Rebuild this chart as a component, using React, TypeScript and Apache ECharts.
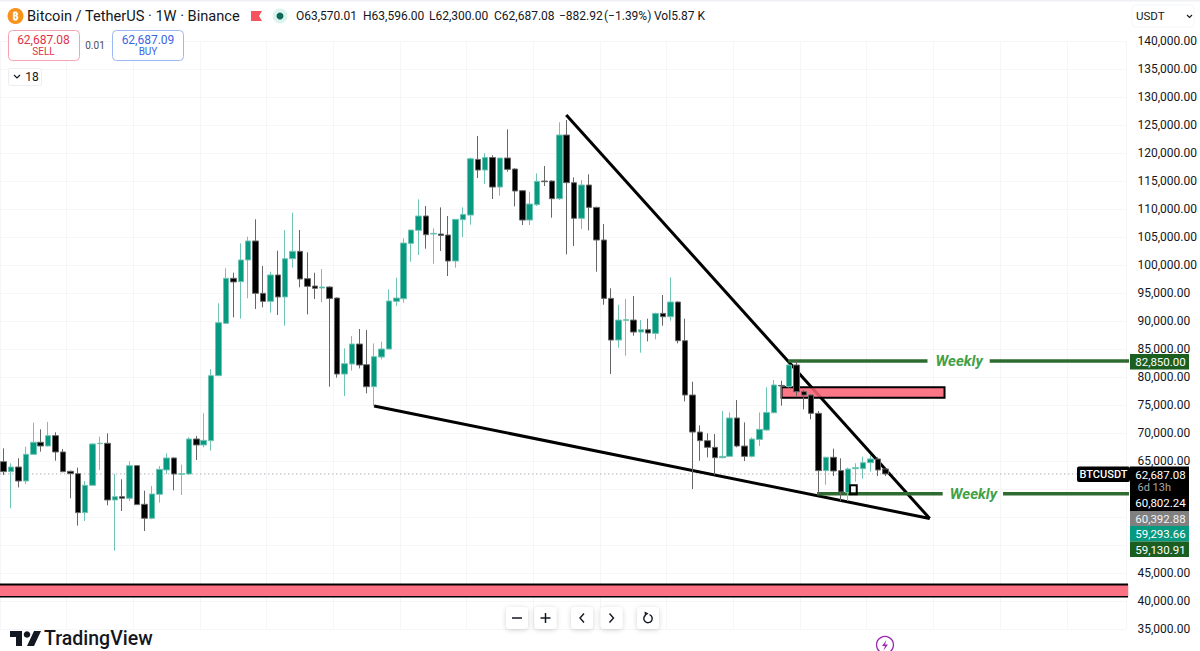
import React, { useEffect, useRef } from "react";
import * as echarts from "echarts";

// [open, close, low, high] in thousands of USDT, one row per weekly bar
const weeklyBars: number[][] = [
  [64.88,63.10,62.50,67.26],[63.10,63.93,56.55,64.59],[63.93,61.43,60.30,65.48],[61.43,66.19,60.90,67.56],
  [66.19,68.34,66.07,71.85],[68.34,67.68,66.67,70.66],[67.68,69.53,67.56,71.97],[69.53,66.61,65.06,70.12],
  [66.61,63.10,62.98,67.15],[63.16,62.74,58.34,63.28],[62.74,55.78,53.46,63.81],[55.78,60.66,54.29,61.43],
  [60.66,68.04,60.60,68.16],[68.10,68.16,63.40,69.35],[68.16,58.04,57.09,69.94],[58.04,58.63,48.99,62.68],
  [58.63,58.34,56.07,61.73],[58.34,64.17,57.86,64.94],[64.17,57.21,57.15,64.29],[57.27,54.77,52.50,59.70],
  [54.77,59.11,54.59,60.54],[59.05,63.52,57.56,64.11],[63.40,65.54,62.68,66.37],[65.54,62.68,59.76,65.66],
  [62.65,62.72,58.93,64.35],[62.68,68.93,62.56,69.23],[68.93,67.86,65.18,69.47],[67.86,68.69,67.44,73.52],
  [68.63,80.24,66.85,81.37],[80.24,89.70,80.18,93.16],[89.58,97.62,89.47,99.41],[97.62,96.97,90.66,98.63],
  [97.03,100.90,90.42,103.87],[100.90,104.29,94.05,105.06],[104.29,94.94,92.15,108.16],[94.94,93.51,92.44,99.82],
  [93.51,98.22,91.49,98.81],[98.22,94.29,91.07,102.56],[94.29,101.13,89.17,106.25],[101.13,102.44,99.53,109.35],
  [102.44,97.50,96.02,106.25],[97.56,96.19,91.19,102.26],[96.25,95.83,93.92,98.63],[95.90,96.07,93.33,99.28],
  [96.07,94.04,78.27,96.20],[94.10,80.53,79.88,94.22],[80.53,82.38,76.60,85.11],[82.32,85.89,81.13,87.32],
  [85.89,82.14,81.54,88.57],[82.20,78.27,77.08,88.39],[78.27,83.63,74.82,85.99],[83.57,85.00,83.15,86.31],
  [85.00,93.57,84.94,95.65],[93.51,94.10,92.67,97.73],[93.98,103.92,93.27,104.76],[103.86,106.25,100.59,106.25],
  [106.19,108.75,101.78,111.72],[108.75,105.41,102.91,110.53],[105.53,105.65,100.23,106.54],[105.53,105.29,102.50,110.29],
  [105.35,100.71,98.03,108.75],[100.71,108.15,99.52,108.15],[108.09,109.04,105.00,110.29],[108.92,118.98,107.20,119.20],
  [118.86,116.96,115.53,123.03],[116.96,119.20,114.46,119.94],[119.20,113.92,111.78,119.58],[113.92,119.10,112.38,119.10],
  [119.10,117.08,116.66,124.22],[117.14,113.21,110.47,117.26],[113.27,108.03,107.14,113.39],[108.03,110.89,107.14,113.09],
  [110.77,114.94,110.53,116.36],[114.99,114.88,114.10,117.67],[114.99,111.84,108.45,115.11],[111.84,123.21,111.60,125.47],
  [123.21,114.70,101.90,125.89],[114.70,108.33,103.39,115.65],[108.33,114.28,106.42,115.17],[114.28,110.29,106.19,116.19],
  [110.29,104.46,98.80,110.41],[104.46,94.04,92.91,107.32],[94.04,86.60,80.53,95.83],[86.60,90.17,85.23,92.91],
  [90.12,90.23,83.81,93.92],[90.17,88.03,87.38,94.46],[88.03,88.45,84.34,90.17],[88.45,87.85,86.36,90.41],
  [87.79,91.36,86.72,91.48],[91.36,90.77,89.16,94.64],[90.77,93.39,90.05,97.79],[93.39,86.48,86.01,93.51],
  [86.48,76.78,75.65,90.41],[76.78,70.17,60.00,79.16],[70.17,68.63,65.05,71.36],[68.63,67.44,65.65,69.94],
  [67.44,65.59,62.50,69.82],[65.59,65.83,65.47,73.92],[65.83,72.68,65.71,73.68],[72.68,67.67,67.44,75.89],
  [67.67,65.83,64.99,71.90],[65.83,68.92,65.65,69.22],[68.86,70.65,67.67,73.68],[70.53,73.68,70.41,78.15],
  [73.62,78.57,73.51,79.46],[78.50,78.40,74.88,79.34],[78.27,82.14,78.15,82.26],[82.14,77.38,76.48,82.85],
  [77.38,76.78,74.22,77.68],[76.78,73.51,72.44,76.90],[73.51,63.28,59.11,73.93],[63.28,65.66,60.78,65.78],
  [65.66,63.22,62.32,67.21],[63.28,59.47,57.86,65.48],[59.35,63.57,57.86,63.81],[63.63,63.81,61.31,64.59],
  [63.63,64.70,61.85,65.78],[64.70,65.36,63.10,66.07],[65.36,63.40,62.32,65.66],[63.57,62.687,62.30,63.596],
];
const slotCount = 152;
const categories = Array.from({ length: slotCount }, (_, i) => String(i));

const yTickMin = 35000;
const yTickMax = 140000;
const yTickStep = 5000;
const coveredTicks = [50000, 55000, 60000];
const lastPrice = 62687.08;
const weeklyHigh = 82850;
const weeklyLow = 59130.91;
const demandTop = 42950;
const demandBottom = 40770;

// [bar index, price]
const upperTrend = [[75.94, 126790], [125, 54730]];
const lowerTrend = [[50, 74820], [125, 54730]];
const lastPriceLine = [[-1, lastPrice], [144.9, lastPrice]];
const weeklyHighSegments = [[[105.9, weeklyHigh], [124.7, weeklyHigh]], [[133.1, weeklyHigh], [151.9, weeklyHigh]]];
const weeklyLowSegments = [[[109.8, weeklyLow], [126.75, weeklyLow]], [[134.9, weeklyLow], [151.9, weeklyLow]]];
const weeklyLabels = [[128.97, weeklyHigh], [130.9, weeklyLow]];
const demandTopLine = [[-1, demandTop], [151.8, demandTop]];
const demandBottomLine = [[-1, demandBottom], [151.8, demandBottom]];
// [x from, x to, price low, price high]
const supplyZone = [[105, 127, 76300, 78160]];
const demandZone = [[-1, 151.8, demandBottom, demandTop]];
const miniBox = [[114.25, 115.15, 59050, 60660]];

const titleText = "Bitcoin / TetherUS · 1W · Binance";
const ohlcParts = [
  { x: 296, text: "O63,570.01" },
  { x: 363, text: "H63,596.00" },
  { x: 429, text: "L62,300.00" },
  { x: 494, text: "C62,687.08" },
  { x: 559, text: "−882.92" },
  { x: 604, text: "(−1.39%)" },
  { x: 654, text: "Vol5.87 K" },
];
const sellPrice = "62,687.08";
const buyPrice = "62,687.09";
const spreadText = "0.01";
const priceTags = [
  { y: 354, h: 15.5, fill: "#1b5e20", text: "82,850.00", color: "#ffffff" },
  { y: 511, h: 15, fill: "#808080", text: "60,392.88", color: "#f2f2f2" },
  { y: 526, h: 15.5, fill: "#089981", text: "59,293.66", color: "#ffffff" },
  { y: 541.5, h: 15.5, fill: "#1b5e20", text: "59,130.91", color: "#ffffff" },
];

const FONT = "Roboto, 'Noto Sans', sans-serif";

function txt(text: string, x: number, y: number, size: number, fill: string, align = "left", weight = 400) {
  return {
    type: "text", z: 100, silent: true,
    style: { text, x, y, fill, fontSize: size, fontFamily: FONT, fontWeight: weight, textAlign: align, textVerticalAlign: "middle" },
  };
}
function box(x: number, y: number, w: number, h: number, fill: string, stroke?: string, r = 0, shadow = false) {
  return {
    type: "rect", z: 99, silent: true,
    shape: { x, y, width: w, height: h, r },
    style: {
      fill, stroke: stroke || undefined, lineWidth: stroke ? 1 : 0,
      ...(shadow ? { shadowBlur: 5, shadowColor: "rgba(0,0,0,0.18)", shadowOffsetY: 1 } : {}),
    },
  };
}
function stroke(points: number[][], color = "#131722", w = 1.4) {
  return { type: "polyline", z: 100, silent: true, shape: { points }, style: { fill: "none", stroke: color, lineWidth: w } };
}

function buildGraphics() {
  const g: any[] = [];
  g.push(box(0, 0, 1200, 1.5, "#eef0f3"));
  // header
  g.push({ type: "circle", z: 99, silent: true, shape: { cx: 15.5, cy: 16, r: 8 }, style: { fill: "#f7931a" } });
  g.push(txt("₿", 15.5, 16.5, 11, "#ffffff", "center", 700));
  g.push(txt(titleText, 27, 16, 14.6, "#131722"));
  g.push({ type: "polygon", z: 100, silent: true, shape: { points: [[251, 11], [262, 11], [259, 16], [262, 21], [251, 21]] }, style: { fill: "#f7525f" } });
  g.push({ type: "circle", z: 99, silent: true, shape: { cx: 280, cy: 16, r: 7.5 }, style: { fill: "#dcf3ee" } });
  g.push({ type: "circle", z: 100, silent: true, shape: { cx: 280, cy: 16, r: 3.5 }, style: { fill: "#0b6b57" } });
  ohlcParts.forEach((p) => g.push(txt(p.text, p.x, 16, 12, "#131722")));
  // sell / buy
  g.push(box(8.5, 30.5, 71, 30, "#ffffff", "#f5a3ae", 4));
  g.push(txt(sellPrice, 43.5, 39.5, 12, "#e03347", "center"));
  g.push(txt("SELL", 43.5, 51.5, 10, "#e03347", "center"));
  g.push(txt(spreadText, 95, 45.5, 10, "#4a4e59", "center"));
  g.push(box(112.5, 30.5, 71, 30, "#ffffff", "#9db8f5", 4));
  g.push(txt(buyPrice, 148, 39.5, 12, "#3a66e6", "center"));
  g.push(txt("BUY", 148, 51.5, 10, "#3a66e6", "center"));
  g.push(box(8.5, 68.5, 33, 17, "#ffffff", "#eceef1", 2));
  g.push(stroke([[14, 75], [17, 78], [20, 75]], "#131722", 1.2));
  g.push(txt("18", 32, 77, 12, "#131722", "center"));
  // currency
  g.push(box(1132, 5, 62, 22, "#ffffff", "#f4f5f7", 4));
  g.push(txt("USDT", 1136, 16, 11.5, "#131722"));
  g.push(stroke([[1187, 15], [1189.5, 17.5], [1192, 15]], "#131722", 1.1));
  // last price tags
  g.push(box(1077, 466.5, 53, 15.5, "#000000", undefined, 2));
  g.push(txt("BTCUSDT", 1103.5, 474.5, 11, "#ffffff", "center", 500));
  g.push(box(1130, 466.5, 59, 44.5, "#000000"));
  g.push(txt("62,687.08", 1160.5, 474.5, 11.5, "#ffffff", "center"));
  g.push(txt("6d 13h", 1137.5, 487.5, 11, "#a8a8a8"));
  g.push(txt("60,802.24", 1160.5, 502.5, 11.5, "#ffffff", "center"));
  priceTags.forEach((t) => {
    g.push(box(1130, t.y, 59, t.h, t.fill));
    g.push(txt(t.text, 1160.5, t.y + t.h / 2 + 0.5, 11.5, t.color, "center"));
  });
  // bottom controls
  [517, 545.5, 582, 611.5, 648].forEach((cx) => g.push(box(cx - 11, 607, 22, 22, "#ffffff", undefined, 4, true)));
  g.push(stroke([[512, 618], [522, 618]], "#131722", 1.5));
  g.push(stroke([[540.5, 618], [550.5, 618]], "#131722", 1.5));
  g.push(stroke([[545.5, 613], [545.5, 623]], "#131722", 1.5));
  g.push(stroke([[584, 613.5], [580, 618], [584, 622.5]], "#131722", 1.4));
  g.push(stroke([[609.5, 613.5], [613.5, 618], [609.5, 622.5]], "#131722", 1.4));
  g.push({ type: "arc", z: 100, silent: true, shape: { cx: 648, cy: 618.5, r: 4.2, startAngle: -1.2, endAngle: 4.1, clockwise: true }, style: { fill: "none", stroke: "#131722", lineWidth: 1.4 } });
  g.push({ type: "polygon", z: 100, silent: true, shape: { points: [[644.5, 611.5], [648.5, 613.5], [645, 616]] }, style: { fill: "#131722" } });
  // logo
  g.push({ type: "polygon", z: 100, silent: true, shape: { points: [[10, 631], [22, 631], [22, 646], [16, 646], [16, 637], [10, 637]] }, style: { fill: "#131722" } });
  g.push({ type: "circle", z: 100, silent: true, shape: { cx: 27, cy: 634.5, r: 3.3 }, style: { fill: "#131722" } });
  g.push({ type: "polygon", z: 100, silent: true, shape: { points: [[34, 631], [41, 631], [34, 646], [27, 646]] }, style: { fill: "#131722" } });
  g.push(txt("TradingView", 44, 638.5, 19.5, "#131722", "left", 500));
  // flash badge
  g.push({ type: "circle", z: 100, silent: true, shape: { cx: 885, cy: 645, r: 8.5 }, style: { fill: "#ffffff", stroke: "#9c27b0", lineWidth: 1.3 } });
  g.push({ type: "polygon", z: 101, silent: true, shape: { points: [[886.5, 640], [882, 646], [885, 646], [883.5, 650.5], [888, 644.5], [885, 644.5]] }, style: { fill: "#9c27b0" } });
  return g;
}

function zoneItem(borderW: number, fill: string) {
  return (_: any, api: any) => {
    const a = api.coord([api.value(0), api.value(3)]);
    const b = api.coord([api.value(1), api.value(2)]);
    return {
      type: "rect",
      shape: { x: a[0], y: a[1], width: b[0] - a[0], height: b[1] - a[1] },
      style: { fill, stroke: borderW ? "#000000" : "none", lineWidth: borderW },
    };
  };
}

function zoneSeries(data: number[][], fill: string, z: number, w = 2) {
  return {
    type: "custom", xAxisIndex: 1, yAxisIndex: 0, z, silent: true, clip: false,
    data, renderItem: zoneItem(w, fill),
    encode: { x: [0, 1], y: [2, 3] },
  };
}

function lineSeries(data: number[][], color: string, width: number, z: number, type: any = "solid") {
  return {
    type: "line", xAxisIndex: 1, yAxisIndex: 0, z, silent: true, clip: false,
    data, symbol: "none", lineStyle: { color, width, type },
  };
}

export default function App() {
  const ref = useRef<HTMLDivElement>(null);
  useEffect(() => {
    document.body.style.margin = "0";
    document.body.style.overflow = "hidden";
    const chart = echarts.init(ref.current!, undefined, { renderer: "svg" });
    chart.setOption({
      animation: false,
      backgroundColor: "#ffffff",
      grid: { left: -3.72, width: 1130.88, top: 41, bottom: 22, containLabel: false },
      xAxis: [
        {
          type: "category", data: categories, boundaryGap: true,
          axisLine: { show: false }, axisTick: { show: false }, axisLabel: { show: false },
          splitLine: { show: true, interval: 8, lineStyle: { color: "#f6f6f8", width: 1 } },
        },
        { type: "value", min: -0.5, max: slotCount - 0.5, show: false, splitLine: { show: false } },
      ],
      yAxis: {
        type: "value", position: "right", min: yTickMin, max: yTickMax, interval: yTickStep,
        axisLine: { show: false }, axisTick: { show: false },
        splitLine: { show: true, lineStyle: { color: "#f6f6f8", width: 1 } },
        axisLabel: {
          margin: 11.5, fontSize: 12, fontFamily: FONT, color: "#131722", align: "left",
          showMinLabel: true, showMaxLabel: true,
          formatter: (v: number) =>
            coveredTicks.includes(v) ? "" : v.toLocaleString("en-US", { minimumFractionDigits: 2, maximumFractionDigits: 2 }),
        },
      },
      graphic: buildGraphics(),
      series: [
        lineSeries(lastPriceLine, "#8a8d96", 1, 1, [1, 3]),
        zoneSeries(demandZone, "#fb7285", 2, 0),
        lineSeries(demandTopLine, "#000000", 2, 2),
        lineSeries(demandBottomLine, "#000000", 1.5, 2),
        lineSeries(upperTrend, "#000000", 3, 3),
        lineSeries(lowerTrend, "#000000", 3, 3),
        zoneSeries(supplyZone, "rgba(251,100,120,0.88)", 4),
        ...weeklyHighSegments.map((s) => lineSeries(s, "#2e6b30", 3.5, 4)),
        ...weeklyLowSegments.map((s) => lineSeries(s, "#2e6b30", 3.5, 4)),
        {
          type: "candlestick", xAxisIndex: 0, yAxisIndex: 0, z: 5, silent: true,
          barWidth: 6,
          data: weeklyBars.map((row) => row.map((v) => v * 1000)),
          itemStyle: { color: "#089981", color0: "#000000", borderColor: "#6fc4b4", borderColor0: "#666666", borderWidth: 1 },
        },
        zoneSeries(miniBox, "rgba(255,255,255,0)", 6),
        {
          type: "scatter", xAxisIndex: 1, yAxisIndex: 0, z: 6, silent: true, clip: false,
          data: weeklyLabels, symbolSize: 0,
          itemStyle: { opacity: 1 },
          label: {
            show: true, position: "inside", formatter: "Weekly", color: "#43a047", opacity: 1,
            textBorderWidth: 0, textBorderColor: "transparent",
            fontSize: 15, fontStyle: "italic", fontWeight: 700, fontFamily: FONT,
          },
        },
      ],
    });
    return () => chart.dispose();
  }, []);
  return <div ref={ref} style={{ width: 1200, height: 651 }} />;
}
